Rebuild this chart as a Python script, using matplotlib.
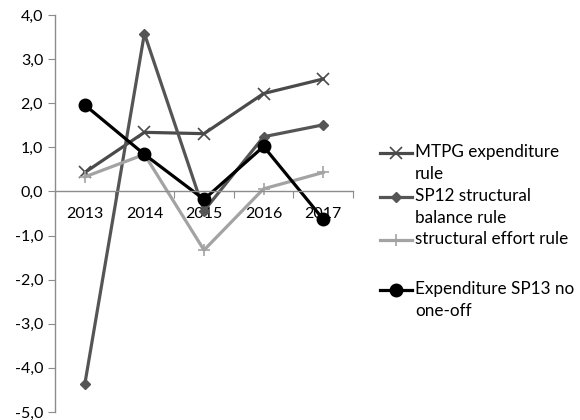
import numpy as np
import matplotlib
matplotlib.use('Agg')
import matplotlib.pyplot as plt
from matplotlib.lines import Line2D
from matplotlib.ticker import FuncFormatter

# data
years = ['2013', '2014', '2015', '2016', '2017']
mtpg = [0.43, 1.34, 1.31, 2.22, 2.55]
sp12 = [-4.37, 3.58, -0.44, 1.24, 1.51]
effort = [0.33, 0.84, -1.33, 0.06, 0.43]
sp13 = [1.96, 0.84, -0.18, 1.02, -0.63]

labels = ['MTPG expenditure\nrule', 'SP12 structural\nbalance rule',
          'structural effort rule', 'Expenditure SP13 no\none-off']

plt.rcParams['font.family'] = ['Lato', 'DejaVu Sans']

fig = plt.figure(figsize=(5.8, 4.2), dpi=100)
ax = fig.add_axes([55/580, 8/420, 298/580, 397/420])

x = np.arange(len(years))
styles = [
    dict(color='#4a4a4a', marker='x', markersize=8, markeredgewidth=1.2),
    dict(color='#555555', marker='D', markersize=5.5),
    dict(color='#a3a3a3', marker='+', markersize=8, markeredgewidth=1.2),
    dict(color='#000000', marker='o', markersize=9),
]
series = [mtpg, sp12, effort, sp13]
for vals, st in zip(series, styles):
    ax.plot(x, vals, linewidth=2.3, **st)

ax.set_xlim(-0.5, len(years) - 0.5)
ax.set_ylim(-5, 4)
ax.set_yticks(np.arange(-5, 5, 1))
ax.yaxis.set_major_formatter(FuncFormatter(lambda v, p: f'{v:.1f}'.replace('.', ',')))

ax.spines['top'].set_visible(False)
ax.spines['right'].set_visible(False)
ax.spines['bottom'].set_position(('data', 0))
for s in ['left', 'bottom']:
    ax.spines[s].set_color('#8c8c8c')
    ax.spines[s].set_linewidth(1)

ax.set_xticks(np.arange(-0.5, len(years), 1))
ax.set_xticklabels([])
ax.set_xticks(x, minor=True)
ax.set_xticklabels(years, minor=True)
ax.tick_params(axis='x', which='major', direction='out', length=5, color='#8c8c8c')
ax.tick_params(axis='x', which='minor', length=0, pad=11, labelsize=11.5)
ax.tick_params(axis='y', direction='out', length=5, color='#8c8c8c', labelsize=11.5)

# legend drawn by hand to keep the Excel-like spacing
leg_y = [153, 197, 240, 290]
for st, lab, yy in zip(styles, labels, leg_y):
    yf = 1 - yy / 420
    fig.add_artist(Line2D([380/580, 412/580], [yf, yf], transform=fig.transFigure,
                          color=st['color'], linewidth=2.3))
    ms = {k: v for k, v in st.items() if k != 'color'}
    fig.add_artist(Line2D([396/580], [yf], transform=fig.transFigure, color=st['color'],
                          linestyle='none', **ms))
    # top of text a bit above the marker so the first line sits on it
    fig.text(415/580, yf + 9/420, lab, va='top', ha='left', fontsize=12.3,
             linespacing=1.45, transform=fig.transFigure)

fig.savefig('out.png', dpi=100)
